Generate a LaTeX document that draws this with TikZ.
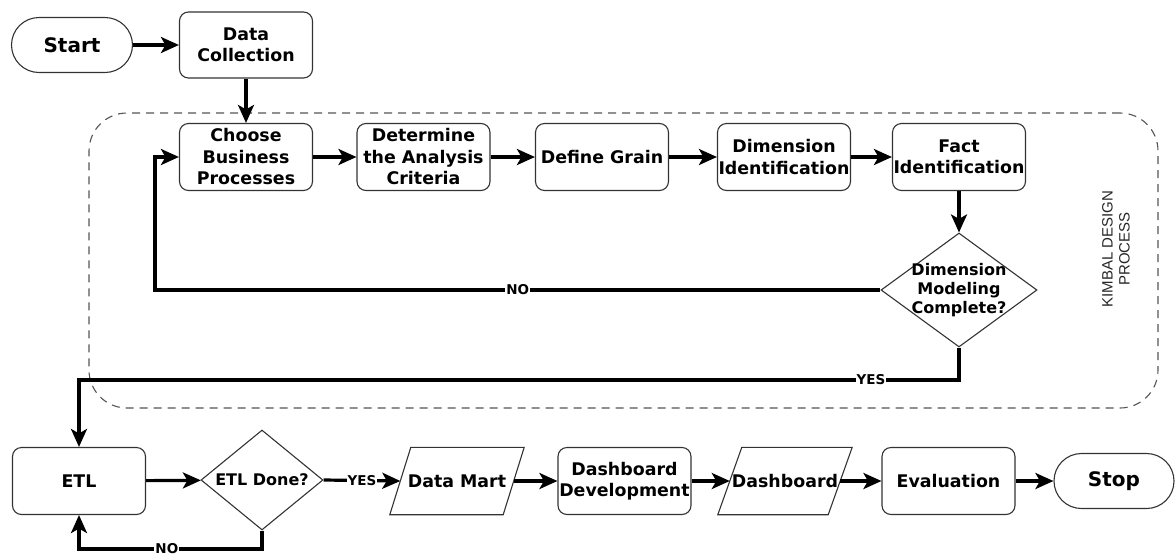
\documentclass[tikz,border=0pt]{standalone}
\usepackage{fontspec}
\setmainfont{DejaVu Sans}
\newfontfamily\kimfont{Liberation Sans}
\usetikzlibrary{shapes.geometric,arrows.meta}
\definecolor{boxc}{HTML}{333333}
\definecolor{dashc}{HTML}{555555}
\newcommand\bxfont{\bfseries\fontsize{17.4}{21.5}\selectfont}
\newcommand\tmfont{\bfseries\fontsize{20}{22}\selectfont}
\newcommand\dcfont{\bfseries\fontsize{16}{18.7}\selectfont}
\newcommand\lbfont{\bfseries\fontsize{13.5}{15}\selectfont}
\begin{document}
\begin{tikzpicture}[x=1pt,y=-1pt,
  boxline/.style={draw=boxc,line width=1.1pt},
  box/.style={boxline,rounded corners=9pt,minimum width=133pt,minimum height=67pt,inner sep=1pt,align=center,font=\bxfont},
  term/.style={boxline,rounded corners=27.5pt,minimum width=121pt,minimum height=55pt,inner sep=1pt,font=\tmfont},
  dec/.style={diamond,boxline,inner sep=-25pt,align=center,font=\dcfont},
  para/.style={minimum height=67pt,inner sep=0pt,align=center,font=\bxfont},
  arr/.style={line width=3.2pt,-{Stealth[length=18pt,width=16pt,inset=4.5pt]}},
  lbl/.style={fill=white,inner sep=1pt,font=\lbfont}]
\useasboundingbox (0,0) rectangle (1176,558);
% Kimball frame
\node[draw=dashc,line width=1.1pt,dash pattern=on 8pt off 6pt,rounded corners=38pt,
  minimum width=1069pt,minimum height=295pt,inner sep=0pt] (kim) at (623.5,260.5) {};
\node[rotate=90,align=center,font=\kimfont\fontsize{15}{17}\selectfont,text=black!85] (kimlbl) at (1116,249) {KIMBAL DESIGN\\PROCESS};
% top
\node[term] (start) at (72,45) {Start};
\node[box,minimum height=66pt] (dc) at (246,45) {Data\\Collection};
\node[box] (cbp) at (246,157) {Choose\\Business\\Processes};
\node[box] (dac) at (423.5,157) {Determine\\the Analysis\\Criteria};
\node[box] (dg) at (602,157) {Define Grain};
\node[box] (di) at (784,157) {Dimension\\Identification};
\node[box] (fi) at (959,157) {Fact\\Identification};
\node[dec,minimum width=156pt,minimum height=114pt] (dmc) at (959,290) {Dimension\\Modeling\\Complete?};
% bottom
\node[box] (etl) at (79,481) {ETL};
\node[dec,minimum width=122pt,minimum height=100pt] (etd) at (262,480) {ETL Done?};
\node[para,minimum width=113pt] (dm) at (457,481) {Data Mart};
\draw[boxline] ([xshift=-10.5pt]dm.south west) -- ([xshift=10.5pt]dm.north west) -- ([xshift=10.5pt]dm.north east) -- ([xshift=-10.5pt]dm.south east) -- cycle;
\node[box] (dd) at (624.5,481) {Dashboard\\Development};
\node[para,minimum width=110pt] (db) at (785,481) {Dashboard};
\draw[boxline] ([xshift=-12pt]db.south west) -- ([xshift=12pt]db.north west) -- ([xshift=12pt]db.north east) -- ([xshift=-12pt]db.south east) -- cycle;
\node[box] (ev) at (948.5,481) {Evaluation};
\node[term,minimum width=120pt] (stop) at (1114,481) {Stop};
% coordinates
\coordinate (nox) at (155,290);
\coordinate (yc) at (79,380);
\coordinate (nc) at (79,549);
% connectors
\draw[arr] (start) -- (dc);
\draw[arr] (dc) -- (cbp);
\draw[arr] (cbp) -- (dac);
\draw[arr] (dac) -- (dg);
\draw[arr] (dg) -- (di);
\draw[arr] (di) -- (fi);
\draw[arr] (fi) -- (dmc);
\draw[arr] (dmc.west) -- node[lbl]{NO} (nox) |- (cbp.west);
\draw[arr] (dmc.south) |- node[lbl,pos=0.55]{YES} (yc) -- (etl.north);
\draw[arr] (etl) -- (etd);
\draw[arr] (etd.east) -- node[lbl]{YES} (dm.west);
\draw[arr] (etd.south) |- node[lbl,pos=0.76]{NO} (nc) -- (etl.south);
\draw[arr] (dm.east) -- (dd.west);
\draw[arr] (dd.east) -- (db.west);
\draw[arr] (db.east) -- (ev.west);
\draw[arr] (ev) -- (stop);
\end{tikzpicture}
\end{document}
